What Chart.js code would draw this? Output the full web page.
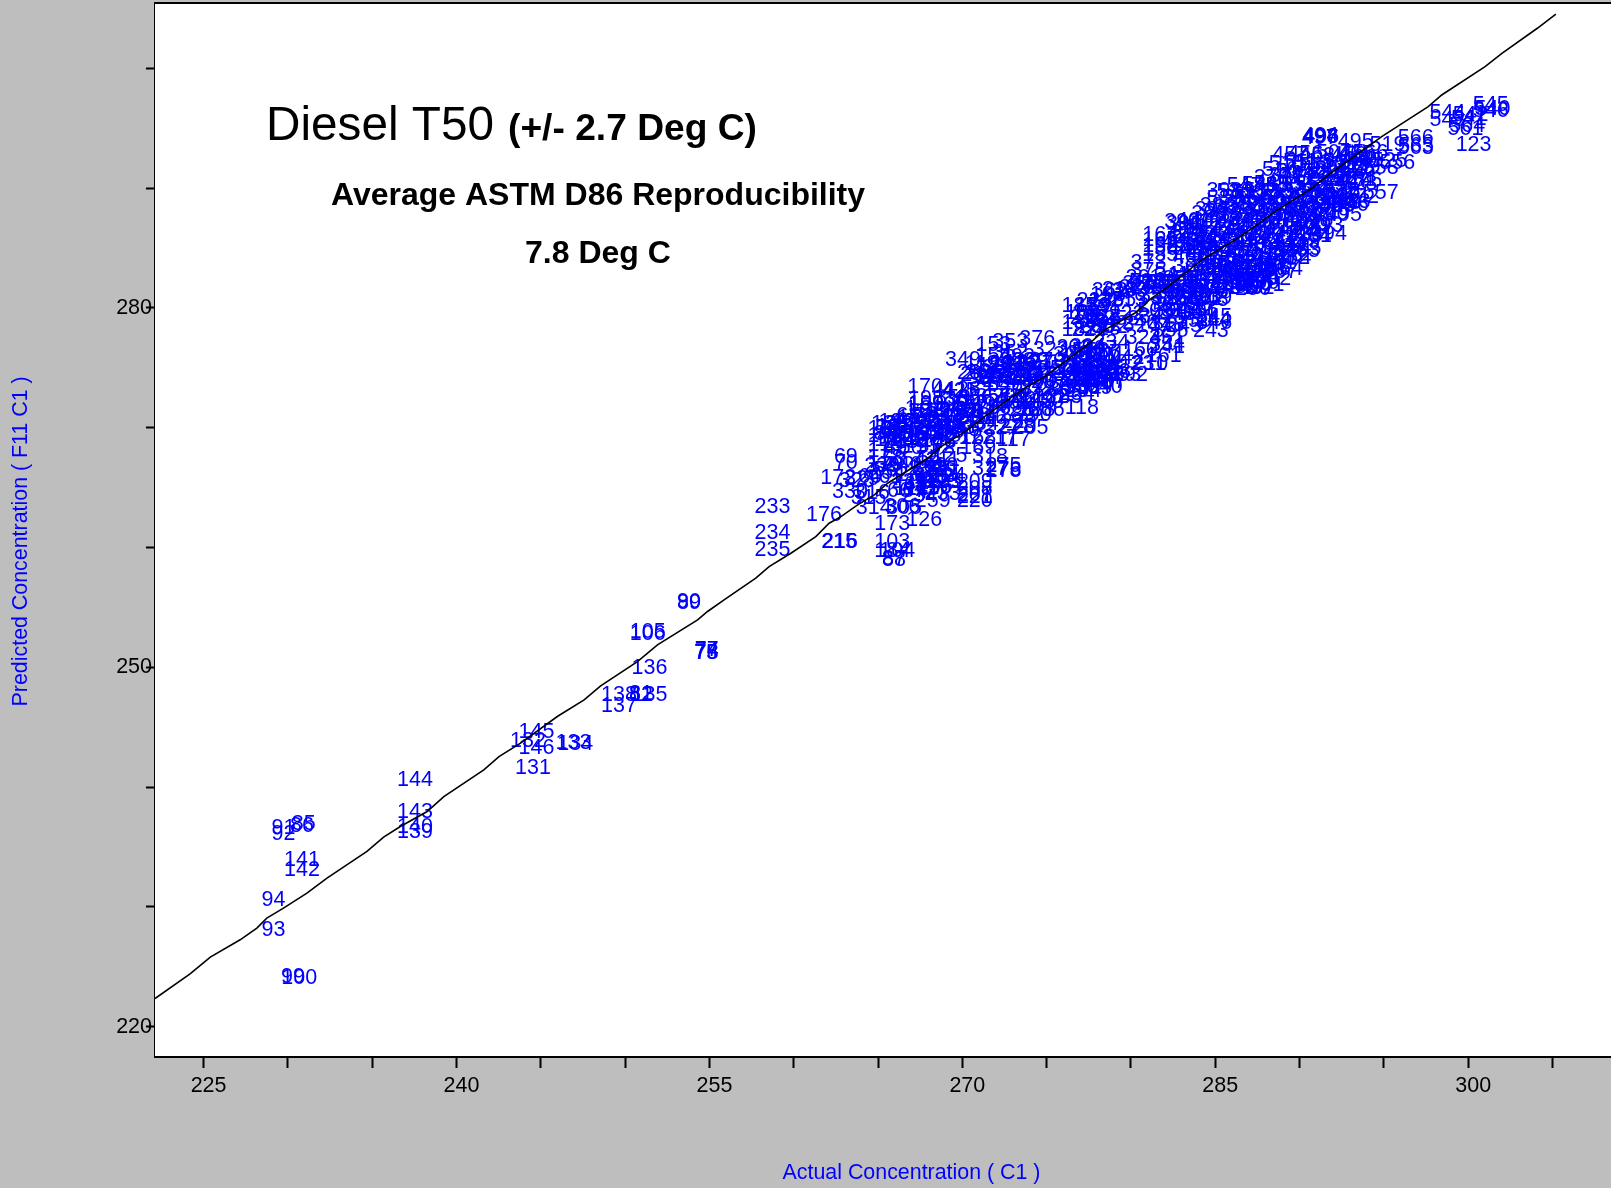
<!DOCTYPE html>
<html><head><meta charset="utf-8">
<style>html,body{margin:0;padding:0;background:#bebebe;overflow:hidden}
#wrap{position:absolute;left:0;top:0;width:1611px;height:1188px;overflow:hidden}</style>
<script src="https://cdn.jsdelivr.net/npm/chart.js@4"></script>
</head><body><div id="wrap"><canvas id="c" width="1668" height="1188"></canvas></div>
<script>
const xTickValues=[225,230,235,240,245,250,255,260,265,270,275,280,285,290,295,300,305,310];
const xTickLabels=[225,240,255,270,285,300];
const yTickValues=[220,230,240,250,260,270,280,290,300];
const yTickLabels=[220,250,280];
const fitActual=[222.12,224.2,225.4,227.17,228.16,228.75,229.74,231.13,232.32,234.69,235.68,236.67,238.26,239.25,241.62,242.52,243.8,245.98,247.57,248.55,250.73,251.92,254.3,254.89,255.87,257.75,258.54,259.83,261.31,262.1,262.8,263.79,264.78,265.57,267.94,268.74,270.32,271.31,272.7,273.69,274.87,277.55,278.44,280.22,281.21,282.2,284.18,286.16,287.74,288.54,290.71,291.7,294.87,297.63,298.43,301,302,304.1,305.2];
const fitPredicted=[222.35,224.4,225.8,227.25,228.23,229.06,229.9,231.15,232.4,234.63,235.82,236.71,237.96,239.2,241.44,242.55,243.67,245.89,247.28,248.45,250.48,251.87,253.96,254.66,255.63,257.44,258.41,259.52,260.91,262.03,262.58,263.56,264.39,265.37,267.45,268.43,269.82,270.93,272.32,273.3,274.27,277.05,278.17,279.56,280.81,281.78,284,285.67,287.21,288.04,289.99,291.1,294.3,296.81,297.78,300.15,301.26,303.35,304.54];

const ids=[
100,99,93,94,142,141,92,91,86,85,
144,143,140,139,145,132,146,131,133,134,
138,137,82,81,135,136,105,106,77,74,78,75,89,90,
233,234,235,176,216,215,103,184,104,87,88,173,126,314,305,306,
69,70,172,329,328,330,316,315,
171,174,175,177,178,179,180,181,
195,196,197,198,199,200,201,
10,11,12,13,14,15,16,
20,21,22,23,24,25,26,
30,31,32,33,34,35,
36,37,38,39,40,41,
42,43,44,45,
212,213,46,47,48,49,50,
51,52,53,54,
55,211,125,56,57,58,
59,60,61,
62,63,64,65,
66,67,259,
318,317,275,276,278,168,169,217,117,209,208,207,221,220,124,
170,441,425,262,263,264,265,349,153,154,353,352,376,322,198,199,
266,267,268,269,270,271,272,273,274,277,279,280,281,282,283,284,286,287,288,289,
290,291,292,293,294,295,296,297,298,299,300,301,
227,228,229,205,206,118,
303,304,307,308,309,310,311,312,313,319,320,321,323,324,325,326,327,331,332,333,334,335,336,337,338,339,340,
242,231,210,192,160,161,241,324,234,
185,186,187,188,189,190,191,193,194,218,219,222,223,224,225,226,230,
232,236,237,238,239,342,343,344,345,346,244,243,245,246,247,348,350,351,
354,355,356,357,358,359,360,361,248,
163,391,165,158,155,156,373,375,341,261,141,
362,363,364,365,366,367,368,369,374,377,378,379,249,250,251,252,253,
545,546,540,544,543,542,541,123,561,564,566,563,565,519,495,498,494,496,497,
4566,575,558,556,525,578,557,429,427,462,460,461,463,464,
457,456,458,507,459,465,
510,511,512,513,514,515,
516,517,518,520,521,522,
370,371,372,523,524,526,527,
547,548,549,550,551,552,553,554,
530,531,532,533,534,535,536,537,538,
539,555,559,560,562,567,368,369,370,
380,381,382,383,384,385,386,387,388,389,
390,392,393,394,395,396,397,398,399,400,
401,402,403,404,405,406,407,408,409,410,
411,412,413,414,415,416,417,418,419,420,
421,422,423,424,426,428,430,431,432,433,434,
435,436,437,438,439,440,442,443,444,445,
446,447,448,449,450,451,452,453,454,455,
466,467,468,469,470,471,472,473,474,
475,476,477,479,480,481,
482,483,484,485,486,487,
488,489,490,491,492,
493,499,500,501,
1,2,3,4,5,
6,7,8,9,17,18,
19,27,28,29,68,71,
72,73,76,79,80,83,
84,95,96,97,98,
101,102,107,108,109,110,
111,112,113,114,115,116,119,120,
121,122,127,128,129,130,147,148,149,150,151,152,
157,159,162,164,166,167,182,183,
202,203,204,214,235,
255,256,257,258,260,302,315,328,347,
502,503,504,505,506,508,509,528,529,
471,472,473,474,476,477,479,480,481,482,
483,484,485,486,487,488,489,490,491,492,493,494,495,496,497,
254,240,239,238,237,236,235,234,233,232,
347,348,350,351,355,356,357,358,359,360,
392,393,394,395,396,397,398
];
const actual=[
230.73,230.36,229.2,229.2,230.9,230.9,229.8,229.8,230.9,231.0,
237.6,237.6,237.6,237.6,244.8,244.3,244.8,244.6,247.0,247.1,
249.7,249.7,251.0,251.0,251.5,251.5,251.4,251.4,254.9,254.9,254.9,254.85,253.85,253.85,
258.8,258.8,258.8,261.85,262.8,262.75,265.9,265.9,266.2,266.0,266.0,265.9,267.8,264.8,266.6,266.5,
263.15,263.15,262.7,264.1,263.8,263.4,264.7,264.5,
265.5,265.5,265.5,265.5,265.5,265.5,265.7,266.0,
267.9,269.3,270.5,271.7,268.3,269.8,271.0,
267.5,268.5,269.5,270.5,271.4,266.9,272.0,
267.8,268.7,269.6,270.5,271.4,266.2,267.1,
268.0,268.9,269.8,270.7,271.5,265.9,
266.8,267.7,268.6,269.5,270.4,265.7,
266.6,267.5,268.4,269.3,
270.2,266.4,267.3,268.2,269.0,266.1,267.0,
268.0,268.8,266.0,267.2,
268.1,268.9,269.3,265.5,267.8,268.5,
269.0,264.6,265.8,
267.9,268.5,269.2,267.3,
266.3,267.2,268.3,
271.7,271.7,272.5,272.5,272.5,271.0,271.0,272.3,273.1,270.8,270.8,270.8,270.8,270.8,269.2,
267.85,269.3,269.9,270.8,270.8,271.0,272.0,270.1,271.9,271.9,272.9,272.9,274.5,275.3,267.9,267.9,
271.3,272.1,273.3,274.1,275.1,273.3,274.1,275.1,272.3,273.3,274.5,275.5,273.9,275.3,276.1,276.85,271.9,273.9,274.5,273.3,
274.3,272.7,273.3,276.5,277.25,274.9,273.9,275.2,276.3,272.9,274.6,273.1,
272.4,273.3,273.4,274.1,275.07,277.15,
276.7,277.5,278.2,276.5,277.3,278.0,278.7,276.7,277.4,278.1,278.8,276.5,277.2,277.9,278.6,276.5,277.2,277.9,278.6,279.6,276.7,277.4,278.0,278.7,277.1,277.9,278.5,
279.8,281.1,281.2,280.0,280.6,282.0,282.2,280.8,278.9,
277.0,277.0,277.0,277.2,277.8,277.6,278.4,278.7,278.2,279.4,279.9,279.8,279.2,277.6,278.4,280.4,281.0,
281.8,281.5,282.6,283.8,285.0,281.6,282.8,284.0,285.0,285.0,284.95,284.8,283.2,280.6,281.4,282.2,283.8,282.2,
282.2,282.4,283.4,284.4,282.6,281.6,283.2,284.4,284.8,
281.8,283.2,281.8,281.8,281.8,281.8,281.1,281.1,282.5,280.8,283.3,
278.8,280.0,281.6,282.8,280.6,284.2,283.6,284.8,284.2,285.0,284.8,285.6,286.85,287.3,283.8,284.4,283.0,
301.4,301.4,301.5,298.83,298.83,300.2,300.1,300.38,299.9,300.0,296.95,296.95,296.97,295.27,293.39,291.3,291.3,291.35,291.25,
293.9,293.5,294.87,295.86,295.4,293.6,294.87,292.69,292.3,289.63,290.7,290.91,290.2,289.2,
289.5,290.4,291.1,292.1,293.0,293.4,
289.3,290.1,290.9,291.7,292.5,293.2,
288.9,289.7,290.6,291.3,292.0,292.8,
288.4,289.3,290.0,290.8,291.7,292.4,293.1,
286.8,287.7,288.4,289.1,290.0,290.8,291.6,292.5,
286.2,287.1,287.8,288.6,289.4,290.2,291.0,291.8,292.6,
285.6,286.5,287.3,288.1,288.9,289.7,290.5,291.3,292.1,
285.2,286.0,286.8,287.6,288.4,289.2,290.0,290.8,291.6,292.3,
284.7,285.5,286.3,287.1,287.9,288.7,289.5,290.3,291.1,291.9,
283.8,284.6,285.4,286.2,287.0,287.8,288.6,289.4,290.2,291.0,
283.5,284.3,285.1,285.9,286.7,287.5,288.3,289.1,289.9,290.7,
283.2,284.0,284.8,285.6,286.4,287.2,288.0,288.8,289.6,290.4,290.9,
283.0,283.8,284.6,285.4,286.2,287.0,287.8,288.6,289.4,290.2,
283.3,284.1,284.9,285.7,286.5,287.3,288.1,288.9,289.7,290.3,
283.6,284.4,285.2,286.0,286.8,287.6,288.4,289.2,289.7,
284.8,285.6,286.4,287.2,288.0,288.8,
285.2,286.0,286.8,287.6,288.3,288.9,
285.5,286.3,287.1,287.9,288.5,
285.8,286.6,287.3,288.1,
267.0,267.9,268.8,269.7,270.6,
266.5,267.4,268.3,269.2,270.1,271.0,
265.8,266.7,267.6,268.5,269.4,270.3,
265.6,266.5,267.4,268.3,269.2,270.1,
265.5,266.3,267.2,268.1,269.0,
265.9,266.8,267.7,268.6,268.1,268.8,
267.6,268.2,268.9,267.0,267.7,268.4,271.2,272.0,
272.8,273.6,274.4,271.8,272.6,273.6,274.6,273.4,274.4,275.0,276.9,277.7,
278.4,276.8,277.5,278.3,276.8,277.6,278.3,279.0,
277.0,277.7,278.4,277.9,278.6,
279.3,277.5,278.4,279.5,278.0,278.8,282.3,283.0,283.8,
284.5,281.5,282.4,283.3,284.2,282.0,283.0,281.0,292.6,
293.2,293.7,292.9,293.4,293.9,293.3,293.8,293.6,294.0,292.6,
293.2,285.5,286.5,287.5,288.4,286.1,287.0,287.8,286.3,287.5,291.6,291.8,292.7,293.1,290.1,
265.6,266.6,265.3,267.2,267.9,268.4,269.0,267.5,268.9,266.9,
271.5,272.6,273.5,274.5,272.3,270.8,271.9,272.6,269.5,270.1,
283.1,283.5,284.2,283.6,284.3,284.9,285.6
];
const predicted=[
224.2,224.3,228.2,230.7,233.2,234.0,236.2,236.7,236.9,237.0,
240.7,238.0,236.8,236.4,244.7,244.0,243.4,241.7,243.8,243.75,
247.8,246.9,247.8,247.9,247.8,250.1,253.1,252.9,251.6,251.5,251.3,251.3,255.5,255.6,
263.5,261.3,259.9,262.8,260.6,260.6,260.6,259.8,259.8,259.2,259.1,262.1,262.4,263.4,263.4,263.5,
267.7,267.2,265.9,265.8,265.7,264.75,264.7,264.25,
270.0,269.4,268.7,268.2,267.6,267.0,270.4,270.2,
272.0,272.0,272.1,272.0,271.4,271.5,271.4,
271.4,271.5,271.3,271.4,271.4,270.9,270.9,
270.9,270.8,271.0,270.9,270.9,270.4,270.4,
270.5,270.3,270.4,270.5,270.4,269.9,
269.9,270.0,269.9,269.8,269.9,269.4,
269.4,269.5,269.4,269.4,
269.3,268.9,268.9,268.8,268.9,268.4,268.4,
268.4,268.5,267.4,267.4,
267.5,267.4,267.8,266.6,266.6,266.7,
266.5,266.0,266.0,
266.0,265.9,266.0,265.3,
264.8,264.8,264.0,
267.7,266.7,266.9,266.6,266.5,269.3,268.4,269.3,269.1,265.6,265.0,264.5,264.3,264.0,266.1,
273.5,273.3,273.2,273.3,274.7,274.5,274.3,275.8,277.0,276.1,277.3,276.4,277.5,276.6,272.5,272.1,
274.7,274.8,275.7,275.7,275.7,274.8,274.8,274.5,274.0,273.4,273.4,273.3,272.7,272.7,272.7,272.9,271.8,271.6,271.6,271.2,
271.2,275.4,276.0,273.4,273.2,275.0,274.2,273.9,274.8,272.7,274.0,272.2,
270.1,270.2,270.6,270.1,271.6,271.8,
276.8,276.9,276.7,276.2,276.3,276.1,276.2,275.6,275.7,275.6,275.5,275.0,275.1,275.0,274.9,274.5,274.4,274.5,274.6,274.5,274.0,274.1,274.0,273.9,273.5,273.4,273.5,
275.9,275.4,275.4,274.55,276.6,276.1,276.9,277.6,277.2,
280.3,278.9,278.3,279.7,280.3,279.6,280.1,281.2,279.0,281.6,280.8,279.6,278.7,278.3,278.4,281.8,282.0,
282.2,280.3,280.4,280.4,280.95,279.4,279.6,279.7,279.4,278.9,279.1,278.2,278.6,278.9,278.6,278.7,279.0,277.6,
277.0,278.2,281.5,281.8,281.4,281.1,280.8,281.1,280.8,
286.2,287.1,285.8,285.3,284.5,285.0,283.9,283.2,282.9,282.6,282.9,
281.5,281.5,281.8,281.8,282.1,282.3,283.5,283.5,282.6,282.3,281.5,281.8,281.8,281.7,282.1,282.3,282.5,
297.1,296.6,296.7,296.4,295.8,296.25,295.9,293.7,295.1,295.3,294.3,293.5,293.6,293.7,294.0,294.4,294.5,294.35,294.3,
293.05,291.6,291.8,292.2,292.4,290.5,289.7,288.9,288.6,284.3,287.1,286.1,284.9,283.4,
292.9,293.0,292.8,293.05,292.9,293.0,
292.1,292.3,292.2,292.0,292.3,292.1,
291.6,291.5,291.7,291.5,291.6,291.7,
291.0,291.1,290.9,291.0,291.1,290.8,291.0,
290.3,290.4,290.5,290.3,290.4,290.5,290.3,290.4,
289.8,289.7,289.9,289.8,289.7,289.9,289.8,289.7,289.8,
289.2,289.3,289.1,289.2,289.3,289.1,289.2,289.3,289.1,
288.6,288.5,288.7,288.6,288.5,288.7,288.6,288.5,288.7,288.6,
288.0,288.1,287.9,288.0,288.1,287.9,288.0,288.1,287.9,288.0,
287.4,287.3,287.5,287.4,287.3,287.5,287.4,287.3,287.5,287.4,
286.8,286.9,286.7,286.8,286.9,286.7,286.8,286.9,286.7,286.8,
286.2,286.1,286.3,286.2,286.1,286.3,286.2,286.1,286.3,286.2,286.1,
285.6,285.7,285.5,285.6,285.7,285.5,285.6,285.7,285.5,285.6,
285.0,284.9,285.1,285.0,284.9,285.1,285.0,284.9,285.1,285.0,
284.4,284.5,284.3,284.4,284.5,284.3,284.4,284.5,284.3,
283.8,283.7,283.9,283.8,283.7,283.9,
283.2,283.3,283.1,283.2,283.3,283.1,
282.6,282.5,282.7,282.6,282.5,
282.0,281.9,282.1,282.0,
271.7,271.7,271.6,271.7,271.8,
271.1,271.1,271.2,271.0,271.1,271.1,
270.6,270.6,270.7,270.6,270.5,270.6,
270.1,270.1,270.2,270.0,270.1,270.1,
269.6,269.6,269.7,269.5,269.6,
269.1,269.1,269.2,269.0,266.9,266.9,
265.6,265.7,265.6,265.0,265.0,265.1,275.4,275.3,
275.4,275.5,275.4,274.4,274.4,274.3,274.4,272.4,272.4,272.3,276.5,276.5,
276.4,275.3,275.3,275.2,274.8,274.8,274.7,274.8,
274.2,274.2,274.3,280.7,280.7,
280.8,279.3,279.3,279.2,278.5,278.5,280.9,280.9,281.0,
280.9,279.9,279.9,279.8,279.9,282.2,282.2,282.3,289.5,
289.5,289.4,290.8,290.8,290.7,291.9,291.9,292.5,292.5,289.0,
289.0,283.5,283.4,283.5,283.5,282.3,282.3,282.2,281.8,281.8,287.0,286.3,287.9,288.7,288.3,
266.3,267.0,266.9,266.2,266.7,265.2,265.6,264.4,264.6,265.6,
274.0,273.7,274.2,274.9,275.1,272.6,272.7,272.3,272.6,272.4,
287.3,286.4,285.4,285.0,284.0,288.3,289.9
];

const inkBlue='#0000ff';
const labelFont='21.5px "Liberation Sans", Arial, sans-serif';
const tickFont={family:'"Liberation Sans", Arial, sans-serif',size:21.5};
const axisTitleFont={family:'"Liberation Sans", Arial, sans-serif',size:21.4};
const annotations=[
 {text:'Diesel T50',x:266,y:140,font:'47.7px "Liberation Sans", Arial, sans-serif'},
 {text:'(+/- 2.7 Deg C)',x:508,y:140,font:'bold 37.2px "Liberation Sans", Arial, sans-serif'},
 {text:'Average ASTM D86 Reproducibility',x:331,y:204.5,font:'bold 32px "Liberation Sans", Arial, sans-serif'},
 {text:'7.8 Deg C',x:525,y:263,font:'bold 32px "Liberation Sans", Arial, sans-serif'}
];

const n=Math.min(ids.length,actual.length,predicted.length);
const points=[];for(let i=0;i<n;i++)points.push({x:actual[i],y:predicted[i]});
const fitLine=fitActual.map((a,i)=>({x:a,y:fitPredicted[i]}));

const plotDeco={id:'plotDeco',
 beforeDatasetsDraw(chart){
  const {ctx,chartArea:a}=chart;
  ctx.save();ctx.fillStyle='#fff';ctx.fillRect(a.left,a.top,a.right-a.left,a.bottom-a.top);
  ctx.fillStyle=inkBlue;ctx.font=labelFont;ctx.textAlign='center';ctx.textBaseline='middle';
  chart.getDatasetMeta(0).data.forEach((el,i)=>ctx.fillText(String(ids[i]),el.x-1,el.y+1.5));
  ctx.restore();
 },
 afterDraw(chart){
  const {ctx,chartArea:a}=chart;
  ctx.save();ctx.strokeStyle='#000';ctx.lineWidth=2;
  ctx.beginPath();ctx.moveTo(a.left-1,a.top);ctx.lineTo(a.right,a.top);ctx.stroke();
  ctx.fillStyle='#000';ctx.textAlign='left';ctx.textBaseline='alphabetic';
  annotations.forEach(t=>{ctx.font=t.font;ctx.fillText(t.text,t.x,t.y);});
  ctx.restore();
 }
};

new Chart(document.getElementById('c'),{
 type:'scatter',
 data:{datasets:[
  {label:'Samples',data:points,pointRadius:0,showLine:false,order:2},
  {label:'Fit',data:fitLine,showLine:true,pointRadius:0,borderColor:'#000',borderWidth:1.6,tension:0,order:1}
 ]},
 plugins:[plotDeco],
 options:{
  responsive:false,animation:false,
  layout:{padding:{top:3,left:0,right:0,bottom:0}},
  plugins:{legend:{display:false},tooltip:{enabled:false},title:{display:false}},
  scales:{
   x:{type:'linear',min:222.12,max:311.85,
    afterBuildTicks(s){s.ticks=xTickValues.map(v=>({value:v}));},
    afterFit(s){s.height=132;s.paddingLeft=0;s.paddingRight=0;},
    grid:{drawOnChartArea:false,drawTicks:true,tickLength:12,tickWidth:2,tickColor:'#000'},
    border:{display:true,color:'#000',width:3},
    ticks:{autoSkip:false,maxRotation:0,color:'#000',font:tickFont,padding:5,labelOffset:5,
     callback:v=>xTickLabels.includes(v)?String(v):''},
    title:{display:true,text:'Actual Concentration ( C1 )',color:inkBlue,font:axisTitleFont,padding:{top:0,bottom:2}}
   },
   y:{type:'linear',min:217.55,max:305.46,
    afterBuildTicks(s){s.ticks=yTickValues.map(v=>({value:v}));},
    afterFit(s){s.width=155;s.paddingTop=0;s.paddingBottom=0;},
    grid:{drawOnChartArea:false,drawTicks:true,tickLength:9,tickWidth:2,tickColor:'#000'},
    border:{display:true,color:'#000',width:3},
    ticks:{autoSkip:false,color:'#000',font:tickFont,padding:-6,
     callback:v=>yTickLabels.includes(v)?String(v):''},
    title:{display:true,text:'Predicted Concentration ( F11 C1 )    ',color:inkBlue,font:axisTitleFont,padding:{top:8,bottom:0}}
   }
  }
 }
});
</script></body></html>
